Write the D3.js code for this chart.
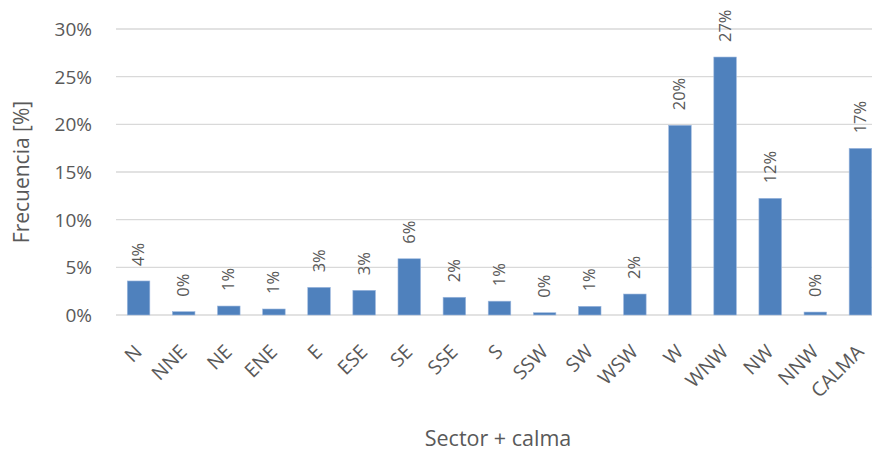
<!DOCTYPE html>
<html>
<head>
<meta charset="utf-8">
<script src="https://cdn.jsdelivr.net/npm/d3@7"></script>
<style>
  html, body { margin: 0; padding: 0; background: #fff; overflow: hidden; }
  svg { display: block; }
  text { font-family: "Open Sans", "Noto Sans", sans-serif; fill: #595959; }
</style>
</head>
<body>
<svg id="chart" width="872" height="451"></svg>
<script>
// Wind direction sectors plus calm, with frequency in percent
const sectors = ["N", "NNE", "NE", "ENE", "E", "ESE", "SE", "SSE", "S", "SSW", "SW", "WSW", "W", "WNW", "NW", "NNW", "CALMA"];
const frequency = [3.57, 0.35, 0.94, 0.63, 2.9, 2.59, 5.9, 1.86, 1.45, 0.24, 0.91, 2.2, 19.9, 27.06, 12.24, 0.31, 17.48];
const yTicks = [0, 5, 10, 15, 20, 25, 30];

const svg = d3.select("#chart");
const plotLeft = 116, plotRight = 883, plotTop = 29, plotBottom = 315;

const x = d3.scaleBand().domain(sectors).range([plotLeft, plotRight]).paddingInner(0.5).paddingOuter(0.25);
const y = d3.scaleLinear().domain([0, 30]).range([plotBottom, plotTop]);

// horizontal gridlines
svg.append("g")
  .selectAll("line")
  .data(yTicks)
  .join("line")
  .attr("x1", plotLeft).attr("x2", plotRight)
  .attr("y1", d => y(d)).attr("y2", d => y(d))
  .attr("stroke", "#d9d9d9")
  .attr("stroke-width", d => d === 0 ? 1.6 : 1.3);

// y tick labels
svg.append("g")
  .selectAll("text")
  .data(yTicks)
  .join("text")
  .attr("x", 92).attr("y", d => y(d))
  .attr("dy", "0.36em")
  .attr("text-anchor", "end")
  .style("font-size", "19px")
  .text(d => d + "%");

// bars
svg.append("g")
  .selectAll("rect")
  .data(frequency)
  .join("rect")
  .attr("x", (d, i) => x(sectors[i]))
  .attr("width", x.bandwidth())
  .attr("y", d => y(d))
  .attr("height", d => plotBottom - y(d))
  .attr("fill", "#4f81bd")
  .attr("stroke", "#9db8de")
  .attr("stroke-width", 0.6);

// value labels, rotated
svg.append("g")
  .selectAll("text")
  .data(frequency)
  .join("text")
  .attr("transform", (d, i) => `translate(${x(sectors[i]) + x.bandwidth() / 2 + 5.5},${y(d) - 15}) rotate(-90)`)
  .attr("text-anchor", "start")
  .style("font-size", "16.5px")
  .text(d => Math.round(d) + "%");

// category labels at -45 degrees
svg.append("g")
  .selectAll("text")
  .data(sectors)
  .join("text")
  .attr("transform", d => `translate(${x(d) + x.bandwidth() / 2 + 4.5},353) rotate(-45)`)
  .attr("text-anchor", "end")
  .style("font-size", "19.5px")
  .text(d => d);

// axis titles
svg.append("text")
  .attr("transform", "translate(29,172) rotate(-90)")
  .attr("text-anchor", "middle")
  .style("font-size", "21px")
  .text("Frecuencia [%]");

svg.append("text")
  .attr("x", 498).attr("y", 446)
  .attr("text-anchor", "middle")
  .style("font-size", "21.5px")
  .text("Sector + calma");
</script>
</body>
</html>
